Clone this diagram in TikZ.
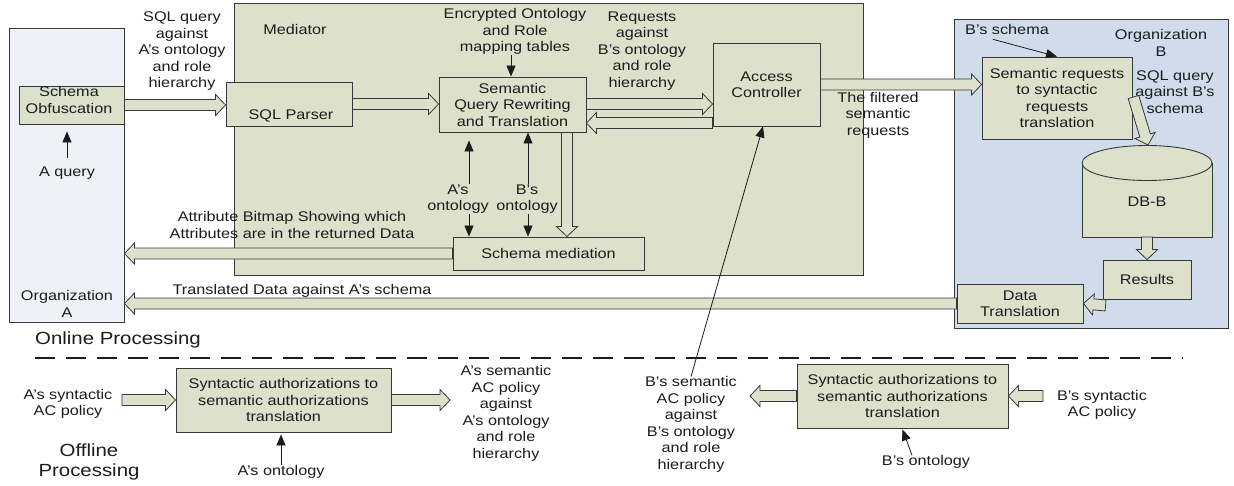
\documentclass[tikz,border=0pt]{standalone}
\usepackage{fontspec}
\setmainfont{Liberation Sans}[FakeStretch=1.16]
\usetikzlibrary{arrows.meta,calc}

\definecolor{medfill}{HTML}{DDE0CB}
\definecolor{orgafill}{HTML}{EEF1F8}
\definecolor{orgbfill}{HTML}{D0DCEC}
\definecolor{edge}{HTML}{383838}
\definecolor{ink}{HTML}{1C1C1C}

\tikzset{
  every node/.style={font=\fontsize{14}{16.5}\selectfont, text=ink, inner sep=0pt, align=center},
  box/.style={draw=edge, fill=medfill, line width=0.9pt},
  region/.style={draw=edge, line width=0.9pt},
  thinarrow/.style={draw=ink, line width=0.8pt, -{Triangle[length=11pt,width=9pt]}},
  hollow/.style={draw=edge, fill=medfill, line width=0.8pt, line join=miter},
  bigtext/.style={font=\fontsize{17.6}{20}\selectfont},
  divider/.style={draw=ink, line width=2.2pt, dash pattern=on 20pt off 11pt},
}

% wide block arrow with an open head, drawn from #1 to #2
\newcommand\bigarrow[2]{%
  \path let \p1=#1, \p2=#2 in
    \pgfextra{%
      \pgfmathsetmacro\arrowang{atan2(\y2-\y1,\x2-\x1)}%
      \pgfmathsetmacro\arrowlen{10*veclen((\x2-\x1)/10,(\y2-\y1)/10)}%
      \xdef\arrowang{\arrowang}\xdef\arrowlen{\arrowlen}};
  \begin{scope}[shift={#1}, rotate=\arrowang]
    \draw[hollow] (0pt,-5.5pt) -- ({\arrowlen pt-10pt},-5.5pt) -- ({\arrowlen pt-10pt},-10.5pt)
      -- ({\arrowlen pt},0pt) -- ({\arrowlen pt-10pt},10.5pt) -- ({\arrowlen pt-10pt},5.5pt)
      -- (0pt,5.5pt) -- cycle;
  \end{scope}}

\begin{document}
\begin{tikzpicture}[x=1pt,y=-1pt]
\useasboundingbox (0,0) rectangle (1234,485);
\fill[white] (0,0) rectangle (1234,485);

% ---------- regions ----------
\node[region, fill=orgafill, minimum width=115pt, minimum height=294pt] (orga) at (66.5,175) {};
\node[region, fill=orgbfill, minimum width=274pt, minimum height=309pt] (orgb) at (1091,173.5) {};
\node[region, fill=medfill, minimum width=629pt, minimum height=272pt] (med) at (548.5,139) {};

\node (medlbl) at (295,29) {Mediator};
\node (orgalbl) at (67,304) {Organization\\A};
\node (orgblbl) at (1161,43) {Organization\\B};

% ---------- online boxes ----------
\node[box, minimum width=105pt, minimum height=38pt] (schobf) at (71.5,105) {};
\node (schobftxt) at (69,100) {Schema\\Obfuscation};
\node[box, minimum width=126pt, minimum height=44pt] (sqlp) at (289,104) {};
\node (sqlptxt) at (291,116) {SQL Parser};
\node[box, minimum width=147pt, minimum height=55pt] (sem) at (512.5,104.5) {Semantic\\Query Rewriting\\and Translation};
\node[box, minimum width=107pt, minimum height=83pt] (ac) at (766.5,84.5) {Access\\Controller};
\node[box, minimum width=191pt, minimum height=33pt] (smed) at (548.5,253.5) {Schema mediation};
\node[box, minimum width=150pt, minimum height=82pt] (semreq) at (1057,98) {Semantic requests\\to syntactic\\requests\\translation};
\node[box, minimum width=88pt, minimum height=39pt] (results) at (1147,279.5) {Results};
\node[box, minimum width=126pt, minimum height=39pt] (dtrans) at (1020,303.5) {Data\\Translation};

% database cylinder
\fill[medfill] (1082,163) rectangle (1212,237);
\draw[draw=edge, line width=0.9pt] (1082,163) -- (1082,237) -- (1212,237) -- (1212,163);
\draw[draw=edge, fill=medfill, line width=0.9pt] (1147,163) ellipse [x radius=65pt, y radius=17.5pt];
\node (db) at (1147,202) {DB-B};
\coordinate (dbtop) at (1148,145);
\coordinate (dbbot) at (1147,237);

% ---------- online labels ----------
\node (sqlq) at (182,51.5) {SQL query\\against\\A’s ontology\\and role\\hierarchy};
\node (enc) at (515,31.5) {Encrypted Ontology\\and Role\\mapping tables};
\node (reqs) at (642,51) {Requests\\against\\B’s ontology\\and role\\hierarchy};
\node (filt) at (878,115) {The filtered\\semantic\\requests};
\node (bsch) at (1007,29) {B’s schema};
\node (sqlb) at (1175,92) {SQL query\\against B’s\\schema};
\node (aq) at (67,173) {A query};
\node (aon) at (458,199) {A’s\\ontology};
\node (bon) at (527,199) {B’s\\ontology};
\node (bitmap) at (292,225) {Attribute Bitmap Showing which\\Attributes are in the returned Data};
\node (transl) at (302,291) {Translated Data against A’s schema};

% ---------- online block arrows ----------
\bigarrow{(schobf.east)}{(schobf.east -| sqlp.west)}
\bigarrow{(sqlp.east)}{(sqlp.east -| sem.west)}
\bigarrow{(sem.east |- 0,104)}{(ac.west |- 0,104)}
\bigarrow{(ac.west |- 0,123)}{(sem.east |- 0,123)}
\bigarrow{(ac.east)}{(ac.east -| semreq.west)}
\bigarrow{(sem.south -| 567,0)}{(smed.north -| 567,0)}
\bigarrow{(smed.west)}{(smed.west -| orga.east)}
\bigarrow{(dtrans.west)}{(dtrans.west -| orga.east)}
\bigarrow{([shift={(1,-1)}]semreq.east)}{(dbtop)}
\bigarrow{(dbbot)}{(results.north)}
\bigarrow{([shift={(3,6)}]results.south west)}{(dtrans.east)}

% ---------- online thin arrows ----------
\draw[thinarrow] ([yshift=9pt]aq.north) -- ([yshift=-7pt]schobf.south -| aq.north);
\draw[thinarrow] (enc.south -| 511,0) -- (sem.north -| 511,0);
\draw[thinarrow] (aon.north -| 469,0) -- ([yshift=-8pt]sem.south -| 469,0);
\draw[thinarrow] (aon.south -| 469,0) -- (smed.north -| 469,0);
\draw[thinarrow] (bon.north -| 528,0) -- (sem.south -| 528,0);
\draw[thinarrow] (bon.south -| 528,0) -- (smed.north -| 528,0);
\draw[thinarrow] ([shift={(-14,5)}]bsch.south) -- (semreq.north);

% ---------- divider ----------
\node[bigtext] (online) at (118,340) {Online Processing};
\coordinate (divl) at (35,358);
\coordinate (divr) at (1183,358);
\draw[divider] (divl) -- (divr);

% ---------- offline part ----------
\node[bigtext] (offline) at (89,462) {Offline\\Processing};
\node[box, minimum width=215pt, minimum height=64pt] (lowa) at (283.5,400) {Syntactic authorizations to\\semantic authorizations\\translation};
\node[box, minimum width=211pt, minimum height=64pt] (lowb) at (902.5,396) {Syntactic authorizations to\\semantic authorizations\\translation};
\node (asyn) at (68,404) {A’s syntactic\\AC policy};
\node (bsyn) at (1102,405) {B’s syntactic\\AC policy};
\node (asem) at (506,413.5) {A’s semantic\\AC policy\\against\\A’s ontology\\and role\\hierarchy};
\node (bsem) at (691,424.5) {B’s semantic\\AC policy\\against\\B’s ontology\\and role\\hierarchy};
\node (aoo) at (281,472) {A’s ontology};
\node (boo) at (926,462) {B’s ontology};

\coordinate (asyntail) at (122,400);
\coordinate (asemtip) at (450,400);
\coordinate (bsemtip) at (750,396);
\coordinate (bsyntail) at (1043,396);
\bigarrow{(asyntail)}{(lowa.west)}
\bigarrow{(lowa.east)}{(asemtip)}
\bigarrow{(lowb.west)}{(bsemtip)}
\bigarrow{(bsyntail)}{(lowb.east)}

\draw[thinarrow] (aoo.north) -- ([yshift=-2pt]lowa.south -| aoo.north);
\draw[thinarrow] ([xshift=-14pt]boo.north) -- ([yshift=-1pt]lowb.south);
\draw[thinarrow] (bsem.north) -- ([xshift=-3.5pt]ac.south);
\end{tikzpicture}
\end{document}
